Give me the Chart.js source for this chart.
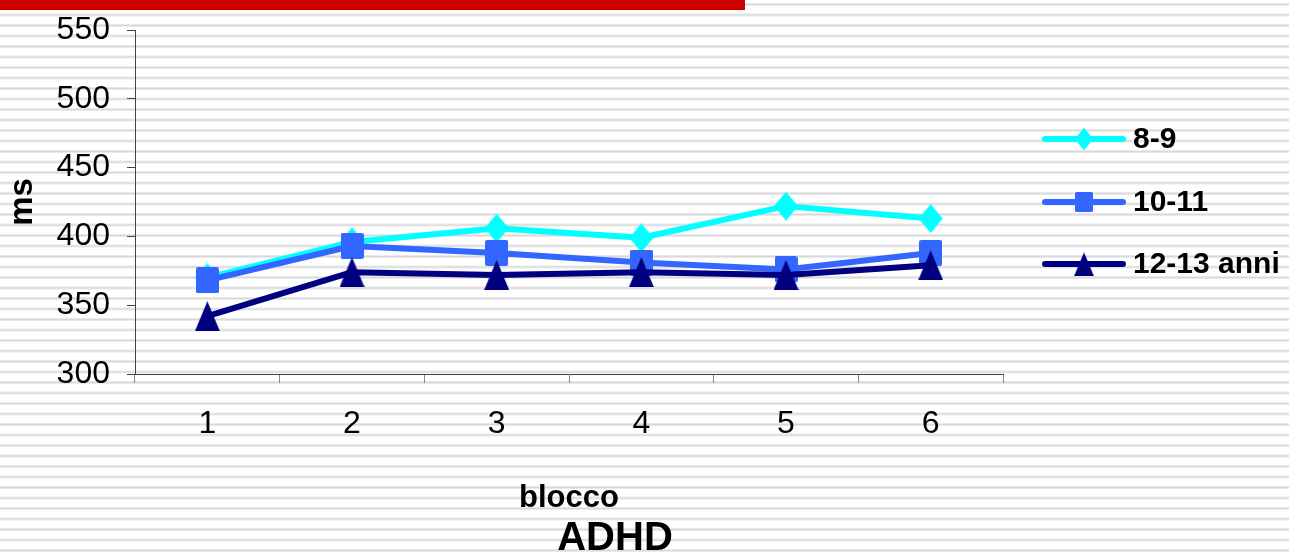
<!DOCTYPE html>
<html>
<head>
<meta charset="utf-8">
<script src="https://cdn.jsdelivr.net/npm/chart.js@4.4.1/dist/chart.umd.min.js"></script>
<style>
  html, body { margin: 0; padding: 0; }
  body {
    width: 1289px; height: 552px; overflow: hidden; position: relative;
    background: repeating-linear-gradient(to bottom,
      #fff 0px, #fff 2.5px, #e9e9e9 3.5px, #dadada 4.5px, #e9e9e9 5.5px, #fff 6.5px, #fff 10.5px);
  }
  #bar { position: absolute; left: 0; top: 0; width: 745px; height: 10px; background: #cc0000; }
  canvas { position: absolute; left: 0; top: 0; }
</style>
</head>
<body>
<div id="bar"></div>
<canvas id="c" width="1289" height="552"></canvas>
<script>
// --- data ---
const blocchi = ['1', '2', '3', '4', '5', '6'];
const eta89 = [370, 396, 406, 399, 422, 413];
const eta1011 = [368, 393, 388, 381, 376, 388];
const eta1213 = [342, 374, 372, 374, 372, 379];
const seriesNames = ['8-9', '10-11', '12-13 anni'];
const yMin = 300, yMax = 550, yStep = 50;

const FONT = '"Liberation Sans", Arial, sans-serif';

// excel-like markers, a bit taller than wide
function marker(shape, color, w, h) {
  const c = document.createElement('canvas');
  c.width = w; c.height = h;
  const g = c.getContext('2d');
  g.fillStyle = color;
  g.beginPath();
  if (shape === 'diamond') {
    g.moveTo(w / 2, 0); g.lineTo(w, h / 2); g.lineTo(w / 2, h); g.lineTo(0, h / 2);
  } else if (shape === 'square') {
    g.roundRect(0, 0, w, h, 2);
  } else {
    g.moveTo(w / 2, 0); g.lineTo(w, h); g.lineTo(0, h);
  }
  g.closePath();
  g.fill();
  return c;
}

const colors = ['#00ffff', '#3366ff', '#000080'];
const markers = [
  marker('diamond', colors[0], 24, 29),
  marker('square', colors[1], 23, 26),
  marker('triangle', colors[2], 25, 30),
];

// legend: line with marker in the middle, like office charts
const sideLegend = {
  id: 'sideLegend',
  afterDraw(chart) {
    const ctx = chart.ctx;
    const rows = [139, 202, 264];
    ctx.save();
    chart.data.datasets.forEach((ds, i) => {
      const y = rows[i];
      ctx.strokeStyle = ds.borderColor;
      ctx.lineWidth = 6;
      ctx.lineCap = 'round';
      ctx.beginPath();
      ctx.moveTo(1045, y);
      ctx.lineTo(1123, y);
      ctx.stroke();
      const m = ds.pointStyle, s = 0.78;
      ctx.drawImage(m, 1084 - m.width * s / 2, y - m.height * s / 2, m.width * s, m.height * s);
      ctx.fillStyle = '#000';
      ctx.font = 'bold 30px ' + FONT;
      ctx.textAlign = 'left';
      ctx.textBaseline = 'middle';
      ctx.fillText(ds.label, 1133, y + 1);
    });
    // slide caption under the chart
    ctx.font = 'bold 40px ' + FONT;
    ctx.textAlign = 'center';
    ctx.textBaseline = 'alphabetic';
    ctx.fillText('ADHD', 615, 550);
    ctx.restore();
  }
};

const series = [eta89, eta1011, eta1213];

new Chart(document.getElementById('c'), {
  type: 'line',
  data: {
    labels: blocchi,
    datasets: series.map((vals, i) => ({
      label: seriesNames[i],
      data: vals,
      borderColor: colors[i],
      backgroundColor: colors[i],
      borderWidth: 6,
      tension: 0,
      borderJoinStyle: 'round',
      pointStyle: markers[i],
      pointRadius: 12,
      order: 3 - i,
    }))
  },
  options: {
    responsive: false,
    devicePixelRatio: 1,
    animation: false,
    layout: { padding: { left: 0, top: 30, right: 286, bottom: 0 } },
    plugins: { legend: { display: false }, tooltip: { enabled: false } },
    scales: {
      x: {
        offset: true,
        afterFit(scale) { scale.height = 178; },
        grid: { offset: true, drawOnChartArea: false, tickLength: 9, tickColor: '#888' },
        border: { color: '#444', width: 1 },
        ticks: { color: '#000', padding: 22, font: { family: FONT, size: 32 } },
        title: {
          display: true, text: 'blocco', color: '#000',
          font: { family: FONT, size: 31, weight: 'bold' },
          padding: { top: 0, bottom: 35 }
        }
      },
      y: {
        min: yMin, max: yMax,
        afterFit(scale) {
          scale.width = 135;
          scale.paddingTop = 0;
          scale.paddingBottom = 0;
        },
        grid: { drawOnChartArea: false, tickLength: 8, tickColor: '#444' },
        border: { color: '#444', width: 1 },
        ticks: { stepSize: yStep, color: '#000', padding: 17, font: { family: FONT, size: 32 } },
        title: {
          display: true, text: 'ms', color: '#000',
          font: { family: FONT, size: 33, weight: 'bold' },
          padding: { top: 3, bottom: 0 }
        }
      }
    }
  },
  plugins: [sideLegend]
});
</script>
</body>
</html>
